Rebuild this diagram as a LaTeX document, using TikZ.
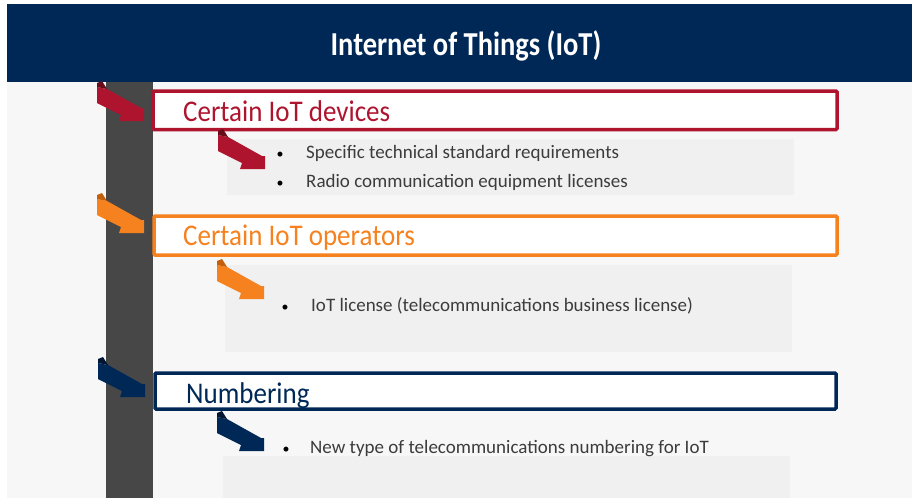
\documentclass[tikz,border=0pt]{standalone}
\usepackage{fontspec}
\setmainfont{Carlito}
\newfontfamily\titlefont[FakeStretch=0.85]{Carlito}
\newfontfamily\headfont[FakeStretch=0.9]{Carlito}
\definecolor{iotnavy}{RGB}{0,40,86}
\definecolor{iotnavydark}{RGB}{0,22,50}
\definecolor{iotred}{RGB}{174,20,45}
\definecolor{iotreddark}{RGB}{105,12,26}
\definecolor{iotorange}{RGB}{245,130,31}
\definecolor{iotorangedark}{RGB}{196,95,12}
\definecolor{iotbar}{RGB}{71,71,71}
\definecolor{iotbg}{RGB}{247,247,247}
\definecolor{iotpanel}{RGB}{240,240,240}
\definecolor{iottext}{RGB}{60,60,60}
\tikzset{
  pics/bentarr/.style 2 args={code={
    \fill[#1] (0,6) -- (10,8) -- (44,27) -- (47,27) -- (47,40) -- (22,40) -- (24,34) -- (0,22) -- cycle;
    \fill[#2] (0,6) -- (0,2) -- (5,0) -- (10,8) -- cycle;
  }},
  catbox/.style={draw=#1, line width=3.5pt, fill=white, rounded corners=1pt},
  cathead/.style={anchor=base west, inner sep=0pt, text=#1, font=\headfont\fontsize{30}{36}\selectfont},
  panel/.style={fill=iotpanel},
  bul/.style={anchor=base, inner sep=0pt, text=black, font=\fontsize{14}{16}\selectfont},
  btext/.style={anchor=base west, inner sep=0pt, text=iottext, font=\fontsize{19}{22}\selectfont},
}
\begin{document}
\begin{tikzpicture}[x=1pt,y=-1pt]
\useasboundingbox (0,0) rectangle (912,498);
\fill[white] (0,0) rectangle (912,498);
\fill[iotbg] (7,82) rectangle (912,498);
% header
\fill[iotnavy] (7,4) rectangle (912,82);
\node[text=white, font=\titlefont\bfseries\fontsize{33.5}{38}\selectfont, inner sep=0pt] (title) at (466,46) {Internet of Things (IoT)};
% timeline bar
\fill[iotbar] (106,82) rectangle (153,498);
% panels
\fill[panel] (227,139) rectangle (794,195);
\fill[panel] (225,265) rectangle (792,352);
\fill[panel] (223,456) rectangle (790,498);
% category boxes
\draw[catbox=iotred] (153,91) rectangle (837,129.5);
\draw[catbox=iotorange] (154,216) rectangle (837,255);
\draw[catbox=iotnavy] (155,373) rectangle (836,409);
\node[cathead=iotred] (head1) at (183,121) {Certain IoT devices};
\node[cathead=iotorange] (head2) at (183,245) {Certain IoT operators};
\node[cathead=iotnavy] (head3) at (186,403) {Numbering};
% arrows
\pic at (97,81) {bentarr={iotred}{iotreddark}};
\pic at (218,129) {bentarr={iotred}{iotreddark}};
\pic at (97,193) {bentarr={iotorange}{iotorangedark}};
\pic at (217,259) {bentarr={iotorange}{iotorangedark}};
\pic at (98,357) {bentarr={iotnavy}{iotnavydark}};
\pic at (217,411) {bentarr={iotnavy}{iotnavydark}};
% bullet texts
\node[bul] (b1) at (280,158) {\textbullet};
\node[btext] (t1) at (306,158) {Specific technical standard requirements};
\node[bul] (b2) at (280,187) {\textbullet};
\node[btext] (t2) at (306,187) {Radio communication equipment licenses};
\node[bul] (b3) at (285,311) {\textbullet};
\node[btext] (t3) at (311,311) {IoT license (telecommunications business license)};
\node[bul] (b4) at (286,453) {\textbullet};
\node[btext] (t4) at (310,453) {New type of telecommunications numbering for IoT};
\end{tikzpicture}
\end{document}
